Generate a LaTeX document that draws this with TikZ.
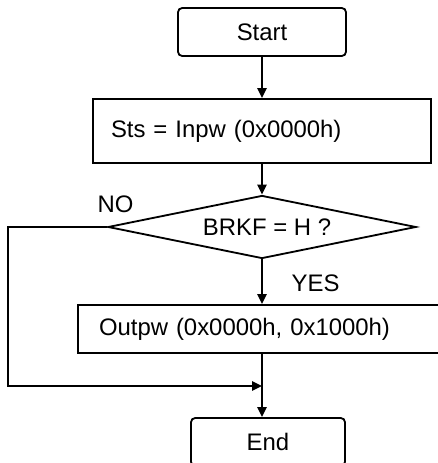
\documentclass[tikz,border=0pt]{standalone}
\usepackage{fontspec}
\setmainfont{Liberation Sans}
\usetikzlibrary{shapes.geometric,arrows.meta}

\begin{document}
\begin{tikzpicture}[
    >={Triangle[length=7pt,width=6.5pt]},
    font=\fontsize{17}{20}\selectfont,
    line width=1.3pt,
    term/.style={draw,rounded corners=3pt,minimum width=#1,minimum height=1.2cm,inner sep=0pt},
    caja/.style={draw,align=left,inner ysep=0pt},
    decision/.style={draw,diamond,aspect=4.9,inner sep=0pt,minimum width=7.7cm,minimum height=1.575cm},
    flecha/.style={->}
]
    \useasboundingbox (0,0) rectangle (10.95,11.575);

    % Bloques
    \node[term=4.2cm] (st) at (6.55,10.775) {Start};
    \node[caja,text width=7.55cm,inner xsep=0.45cm,minimum height=1.6cm]
        (sts) at (6.55,8.3) {Sts = Inpw (0x0000h)};
    \node[decision] (brkf) at (6.55,5.9) {\hspace*{0.25cm}BRKF = H ?};
    \node[caja,text width=8.15cm,inner xsep=0.525cm,minimum height=1.2cm]
        (outp) at (6.55,3.35) {Outpw (0x0000h, 0x1000h)};
    \node[term=3.85cm] (en) at (6.7,0.525) {End};
    \coordinate (esq) at (0.2,1.925);
    \coordinate (junta) at (6.55,1.925);

    % Etiquetas
    \node (no) at (2.89,6.475) {NO};
    \node (yes) at (7.89,4.49) {YES};

    % Flechas
    \draw[flecha] (st) -- (sts);
    \draw[flecha] (sts) -- (brkf);
    \draw[flecha] (brkf) -- (outp);
    \draw[flecha] (outp) -- (outp.south |- en.north);
    \draw[flecha] (brkf.west) -| (esq) -- (junta);
\end{tikzpicture}
\end{document}
